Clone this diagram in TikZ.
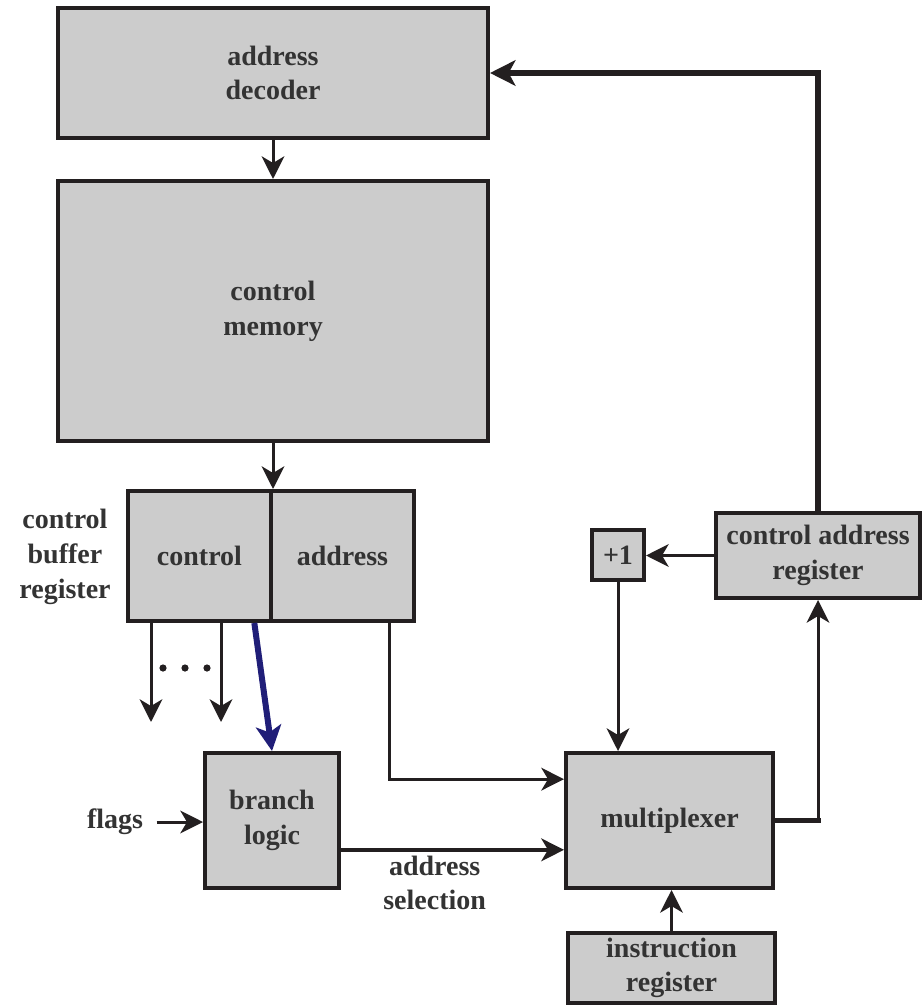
\documentclass[tikz,border=0pt]{standalone}
\usepackage{fontspec}
\setmainfont{Liberation Serif}
\usepackage{xcolor}
\usepackage{tikz}
\usetikzlibrary{arrows.meta, positioning}
\definecolor{boxgray}{RGB}{204, 204, 204}
\definecolor{lineblack}{RGB}{35, 31, 32}
\definecolor{textgray}{RGB}{51, 51, 51}
\definecolor{selectblue}{RGB}{32, 30, 120}

\begin{document}
\begin{tikzpicture}[x=0.75pt, y=-0.75pt,
    unit/.style={draw=lineblack, fill=boxgray, line width=3pt, text=textgray,
        font=\bfseries\fontsize{21}{26}\selectfont, align=center, inner sep=0pt},
    tag/.style={text=textgray, font=\bfseries\fontsize{21}{26}\selectfont, align=center, inner sep=1pt},
    flow/.style={draw=lineblack, line width=2.25pt, -{Stealth[length=17pt, width=17pt, inset=5pt]}}]
    \useasboundingbox (0,0) rectangle (923,1005);

    % Blocks
    \node[unit, minimum width=322.5pt, minimum height=97.5pt] (decoder) at (273,73) {address\\decoder};
    \node[unit, minimum width=322.5pt, minimum height=195pt] (memory) at (273,311) {control\\memory};
    \node[unit, minimum width=107.25pt, minimum height=97.5pt] (cbrctl) at (199.5,556) {control};
    \node[unit, minimum width=107.25pt, minimum height=97.5pt] (cbraddr) at (342.5,556) {address};
    \node[unit, minimum width=100.5pt, minimum height=101.25pt] (branch) at (272,820.5) {branch\\logic};
    \node[unit, minimum width=155.25pt, minimum height=101.25pt] (mux) at (669.5,820.5) {multiplexer};
    \node[unit, minimum width=155.25pt, minimum height=52.5pt] (ir) at (671.5,968) {instruction\\register};
    \node[unit, minimum width=153pt, minimum height=63.75pt] (car) at (818,555.5) {control address\\register};
    \node[unit, minimum width=39pt, minimum height=37.5pt] (inc) at (618,555) {+1};

    % Labels
    \node[tag] (cbrlabel) at (65,557) {control\\buffer\\register};
    \node[tag] (flags) at (115,822) {flags};

    % Control outputs
    \coordinate (out1) at (151,722);
    \coordinate (out2) at (221,722);
    \draw[flow] (out1 |- cbrctl.south) -- (out1);
    \draw[flow] (out2 |- cbrctl.south) -- (out2);
    \foreach \x in {163,185,207}
        \fill[lineblack] (\x,668) circle (2.7pt);

    % Connections
    \draw[flow] (decoder) -- (memory);
    \draw[flow] (memory.south) -- (cbrctl.north east);
    \draw[flow, draw=selectblue, line width=4.5pt, -{Stealth[length=19pt, width=19pt, inset=5pt]}]
        ([xshift=-14pt]cbrctl.south east) -- (branch.north);
    \draw[flow] ([xshift=9pt]flags.east) -- (flags.east -| branch.west);
    \draw[flow] ([xshift=-20.25pt]cbraddr.south east) |- ([yshift=31pt]mux.west);
    \draw[flow, line width=3pt] ([yshift=-22pt]branch.east) coordinate (sel) -- (sel -| mux.west)
        node[tag, below=2pt, pos=0.42] {address\\selection};
    \draw[flow] (ir.north) -- (ir.north |- mux.south);
    \draw[flow] (car.west) -- (car.west -| inc.east);
    \draw[flow] (inc.south) -- (inc.south |- mux.north);
    \draw[lineblack, line width=4pt, line cap=rect] (mux.east) -- (mux.east -| car.south);
    \draw[flow] ([yshift=1.5pt]mux.east -| car.south) -- (car.south);
    \draw[flow, line width=4.5pt, -{Stealth[length=19pt, width=19pt, inset=5pt]}] (car.north) |- (decoder.east);
\end{tikzpicture}
\end{document}
